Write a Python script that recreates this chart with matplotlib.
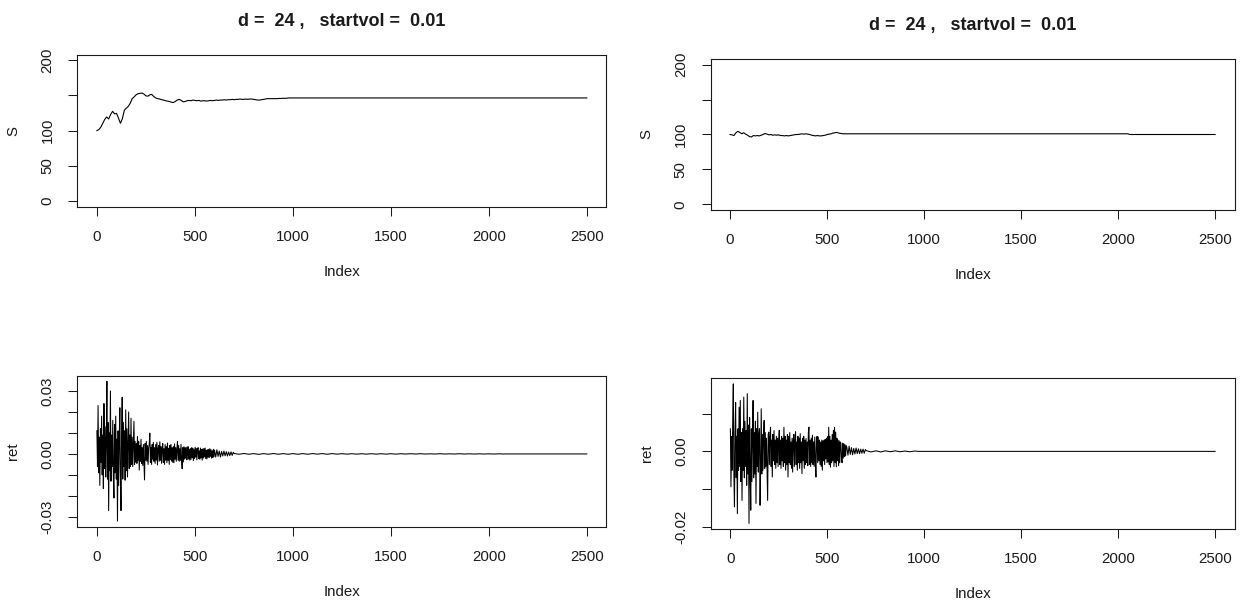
import numpy as np
import matplotlib
matplotlib.use("Agg")
import matplotlib.pyplot as plt

plt.rcParams['font.family'] = ['Liberation Sans', 'DejaVu Sans']

title_text = "d =  24 ,   startvol =  0.01"

# price path, left run: every 10th index up to 991, then flat
s1_head = [100.0, 101.5, 105.0, 110.5, 116.0, 119.5, 116.5, 123.0, 127.5, 124.0,
           124.5, 118.0, 110.5, 117.0, 129.0, 132.0, 134.5, 139.0, 145.5, 148.0,
           151.0, 152.5, 153.0, 153.5, 152.0, 149.5, 149.0, 151.0, 151.5, 148.5,
           146.5, 145.5, 145.0, 144.0, 143.5, 142.5, 142.0, 141.5, 140.5, 140.0,
           141.5, 143.5, 144.5, 143.0, 141.0, 141.5, 142.5, 143.0, 142.5, 143.5,
           143.0, 142.5, 143.0, 142.0, 142.5, 142.5, 142.0, 142.5, 143.0, 142.5,
           143.0, 143.5, 143.0, 143.5, 143.5, 144.0, 143.5, 144.0, 144.0, 144.5,
           144.0, 144.5, 144.5, 145.0, 144.5, 144.5, 145.0, 144.5, 145.0, 145.0,
           144.5, 144.0, 143.5, 143.5, 144.0, 144.5, 145.0, 145.5, 145.5, 145.5,
           145.5, 145.5, 145.5, 145.8, 145.8, 146.0, 146.0, 146.2, 146.5, 146.5]
s1_tail_idx = [2500]
s1_tail = [146.5]

# price path, right run: every 10th index up to 581, then flat
s2_head = [100.0, 99.5, 98.5, 102.5, 104.5, 103.0, 101.0, 102.5, 100.5, 99.0,
           97.0, 96.5, 98.5, 98.0, 98.5, 98.0, 99.0, 100.0, 101.5, 100.5,
           99.5, 100.0, 99.0, 99.5, 99.0, 99.5, 98.5, 98.5, 98.0, 98.5,
           98.0, 98.5, 99.0, 99.5, 100.0, 100.0, 100.5, 101.0, 100.5, 101.0,
           100.5, 100.0, 99.0, 98.5, 98.0, 98.5, 98.0, 98.0, 98.5, 99.0,
           100.0, 100.5, 101.0, 102.0, 102.5, 103.0, 102.0, 101.5, 101.0]
s2_tail_idx = [2051, 2061, 2500]
s2_tail = [101.0, 100.0, 100.0]

# returns (x 1e-4), left run: every 3rd index up to 598
ret1_head = [110, -60, 230, -90, 80, -150, 120, -40, 180, -100,
             90, -165, 240, -70, 130, -110, 60, 346, -120, 150,
             -270, 100, -80, 300, -130, 90, -60, 160, -110, -210,
             140, -90, 180, -120, 70, -320, 110, -150, 60, 220,
             -100, -270, 90, 270, -120, 150, -60, 110, -125, 210,
             -80, 120, -110, 60, 200, -70, 90, -60, 170, -50,
             80, -60, 40, 155, -50, 60, -40, 50, -45, 83,
             -30, 60, -77, 40, -35, 70, -45, 30, -55, 45,
             -40, -124, 50, -30, 60, -35, 40, -50, 30, 45,
             99, -40, 30, -50, 45, -25, 55, -35, 30, -45,
             45, -30, 55, -52, 25, 40, -35, 58, -30, 35,
             -45, 30, 50, -40, 25, -50, 45, -30, 35, -42,
             52, -30, 25, -50, 40, -28, 45, -35, 30, -40,
             35, -42, 48, -25, 30, -35, 22, 60, -30, 40,
             -35, 25, -30, 45, -28, -70, 30, -38, 35, -25,
             30, -20, 32, -28, 18, 35, -25, 22, -30, 26,
             -26, 30, -18, 28, -32, 20, -22, 32, -15, 25,
             -28, 18, 30, -22, 15, -25, 28, -18, 22, -30,
             24, -20, 26, -14, 28, -22, 18, -24, 20, -16,
             22, -18, 25, -12, 20, -20, 15, -18, 22, -14]
# every 6th index from 601 to 697
ret1_fade = [18, -15, 20, -12, 14, -15, 12, -10, 14, -9, 11, -10, 9, -8, 10, -7, 8]
# every 25th index from 701 to 2076
ret1_mid = [2, -1.5, 2, -1.5, 1.5, -2, 1.5, -1.5, 2, -1.5,
            1.5, -1.5, 1.5, -1.5, 1.5, -1.5, 1.5, -1, 1.5, -1.5,
            1.5, -1, 1, -1, 1, -1, 1, -1, 1, -1,
            1, -1, 1, -1, 1, -0.5, 1, -0.5, 1, -0.5,
            0.5, -0.5, 1, -0.5, 0.5, -0.5, 1, -0.5, 0.5, -0.5,
            0.5, -0.5, 0.5, -0.5, 0.5, -0.5]

# returns (x 1e-4), right run: every 3rd index up to 598
ret2_head = [60, -94, 40, -50, 80, 179, -60, -147, 50, 130,
             -70, 40, -165, 60, -50, 117, -40, 135, -80, 50,
             -130, 60, -50, 144, -70, 80, -40, 55, -90, 153,
             -60, 70, -191, 90, -50, -156, 60, -80, 40, 135,
             -70, 50, -60, 80, -138, 60, -40, 104, -55, 45,
             60, -143, -40, 113, -60, 45, -50, 40, 82, -45,
             50, -40, 35, -55, -130, 45, 51, -35, 40, 64,
             -40, 30, -68, 45, -25, 55, -35, 30, -45, 40,
             -30, 35, -40, 25, 56, -35, 30, -45, 40, -25,
             35, -40, 64, -30, 40, -50, 30, -35, 45, -68,
             40, -30, 50, -35, 25, -45, 35, -55, 30, 45,
             -40, 30, 52, -35, 25, -50, 40, -30, 35, -45,
             47, -30, 25, -59, 35, -25, 40, -45, 30, -35,
             34, -30, 25, -38, 50, 64, -35, 30, -40, 35,
             -30, 43, -35, 25, -40, 38, -25, -68, 30, 40,
             -30, 38, -25, 30, -35, 25, -40, 30, -50, 28,
             -25, 30, -35, 32, -20, 35, -30, 40, -28, 64,
             -35, 40, -42, 30, -30, 45, -25, 56, -40, 64,
             -30, 51, -41, 35, -25, 30, -38, 28, -30, 25,
             20, -22, -30, 22, -18, 20, -14, 18, -12, 15]
ret2_fade = [12, -10, 14, -8, 10, -9, 8, -7, 9, -6, 7, -6, 6, -5, 6, -5, 5]
# every 25th index from 701 to 951
ret2_mid = [2, -1.5, 1.5, -1.5, 1.5, -1, 1.5, -1, 1, -1, 1]

x_ticks = [0, 500, 1000, 1500, 2000, 2500]
s_ticks = [0, 50, 100, 150, 200]
s_labels = ["0", "50", "100", "", "200"]
ret1_ticks = [-0.03, -0.02, -0.01, 0.0, 0.01, 0.02, 0.03]
ret1_labels = ["-0.03", "", "", "0.00", "", "", "0.03"]
ret2_ticks = [-0.02, -0.01, 0.0, 0.01]
ret2_labels = ["-0.02", "", "0.00", ""]

# build index/value series
s1_x = np.concatenate([np.arange(1, 1000, 10), s1_tail_idx])
s1_y = np.concatenate([s1_head, s1_tail])
s2_x = np.concatenate([np.arange(1, 590, 10), s2_tail_idx])
s2_y = np.concatenate([s2_head, s2_tail])
r1_x = np.concatenate([np.arange(1, 599, 3), np.arange(601, 698, 6),
                       np.arange(701, 2077, 25), [2081, 2500]])
r1_y = np.concatenate([ret1_head, ret1_fade, ret1_mid, [0, 0]]) * 1e-4
r2_x = np.concatenate([np.arange(1, 599, 3), np.arange(601, 698, 6),
                       np.arange(701, 952, 25), [971, 2500]])
r2_y = np.concatenate([ret2_head, ret2_fade, ret2_mid, [0, 0]]) * 1e-4

W, H = 1242, 603
fig = plt.figure(figsize=(W / 100, H / 100), dpi=100)
ink = '#1a1a1a'


def make_ax(x0, y0, x1, y1):
    ax = fig.add_axes([x0 / W, 1 - y1 / H, (x1 - x0) / W, (y1 - y0) / H])
    for sp in ax.spines.values():
        sp.set_linewidth(0.8)
        sp.set_color(ink)
    ax.tick_params(direction='out', length=6.5, width=0.75, color=ink,
                   labelsize=10.8, labelcolor=ink, pad=10)
    ax.set_xlim(1 - 0.04 * 2499, 2500 + 0.04 * 2499)
    ax.set_xticks(x_ticks)
    h = y1 - y0
    ax.set_xlabel("Index", fontsize=10.8, color=ink)
    ax.xaxis.set_label_coords(0.5, -65 / h)
    ax.xaxis.label.set_va('center')
    ax.yaxis.label.set_va('center')
    return ax


def style_y(ax, ticks, labels, ylabel):
    ax.set_yticks(ticks)
    ax.set_yticklabels(labels)
    for lab in ax.get_yticklabels():
        lab.set_rotation(90)
        lab.set_va('center')
    ax.set_ylabel(ylabel, fontsize=10.8, color=ink)
    ax.yaxis.set_label_coords(-64 / ax.bbox.width, 0.5)


boxes = [(77.3, 54.7, 606.4, 206.6), (710.7, 59.0, 1234.5, 210.0),
         (77.3, 375.7, 606.4, 526.7), (711.0, 378.3, 1234.5, 529.0)]

ax1 = make_ax(*boxes[0])
ax1.plot(s1_x, s1_y, color='black', lw=0.8)
ax1.set_ylim(-8, 208)
style_y(ax1, s_ticks, s_labels, "S")
ax1.set_title(title_text, fontsize=13, fontweight='bold', color=ink, pad=21)

ax2 = make_ax(*boxes[1])
ax2.plot(s2_x, s2_y, color='black', lw=0.8)
ax2.set_ylim(-8, 208)
style_y(ax2, s_ticks, s_labels, "S")
ax2.set_title(title_text, fontsize=13, fontweight='bold', color=ink, pad=21)

ax3 = make_ax(*boxes[2])
ax3.plot(r1_x, r1_y, color='black', lw=0.75)
ax3.margins(y=0.04)
style_y(ax3, ret1_ticks, ret1_labels, "ret")

ax4 = make_ax(*boxes[3])
ax4.plot(r2_x, r2_y, color='black', lw=0.75)
ax4.margins(y=0.04)
style_y(ax4, ret2_ticks, ret2_labels, "ret")

fig.savefig("out.png", dpi=100, facecolor='white')
